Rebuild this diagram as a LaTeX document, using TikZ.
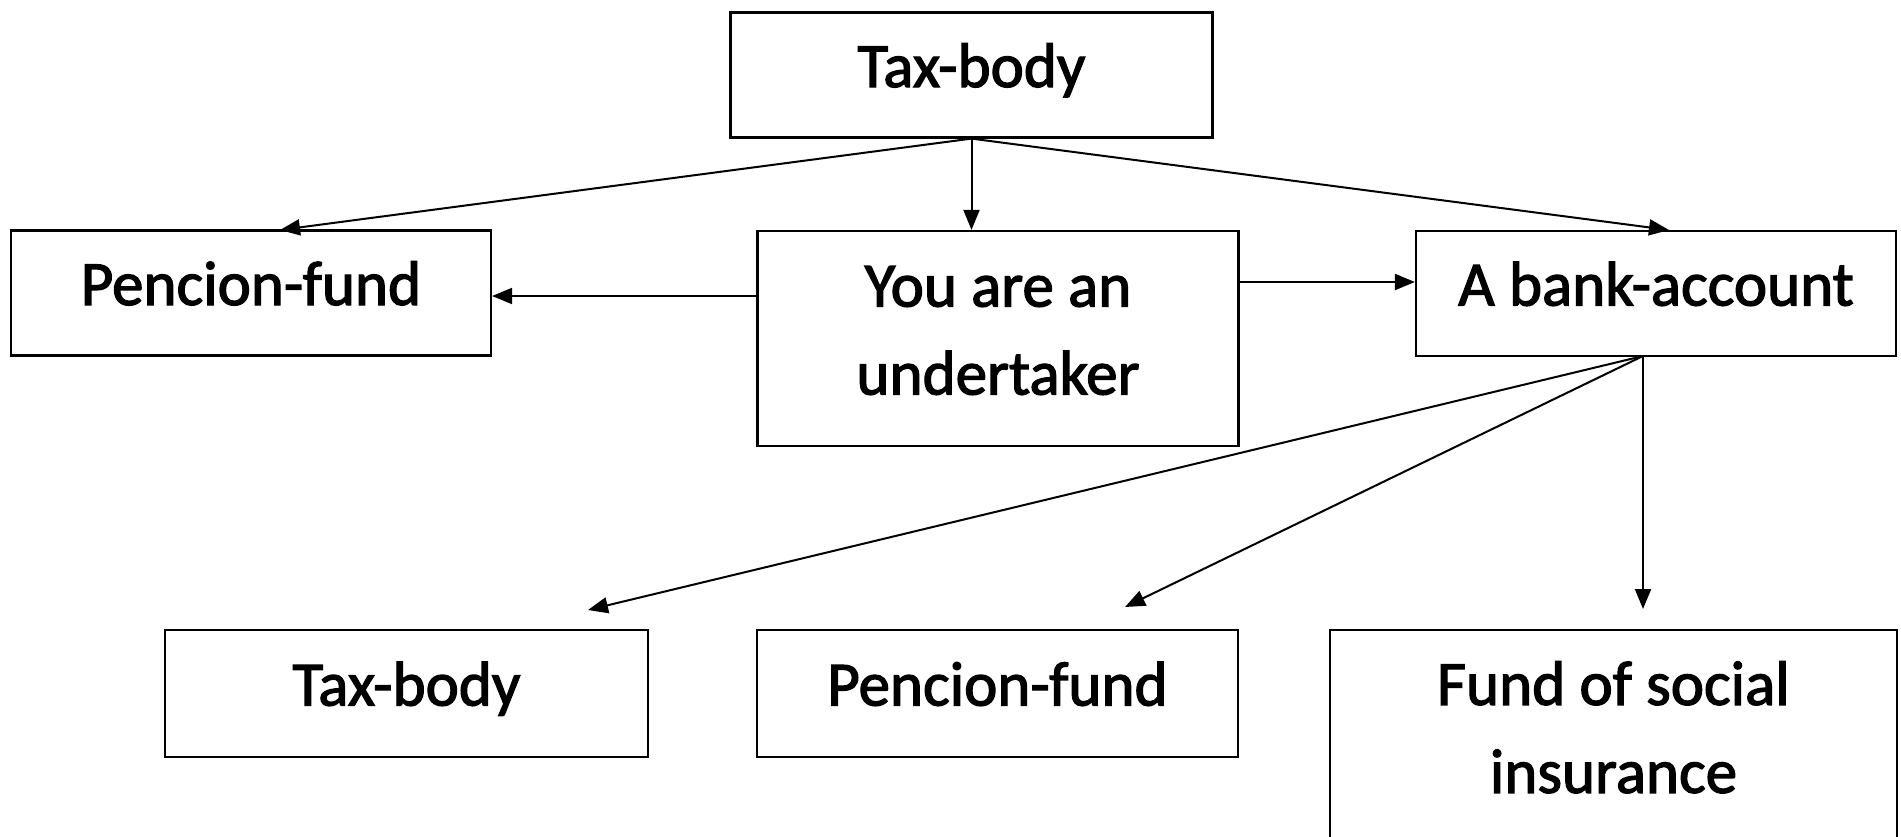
\documentclass[tikz,border=0pt]{standalone}
\usepackage{fontspec}
\setmainfont{Carlito}
\newfontfamily\semib{Carlito}[FakeBold=2]
\usetikzlibrary{arrows.meta}
\begin{document}
\begin{tikzpicture}[x=1pt,y=-1pt,
  box/.style={draw, line width=2.2pt, inner sep=0pt, font=\semib\fontsize{63}{88}\selectfont, align=center},
  one/.style={box, text height=43pt, text depth=19pt},
  arr/.style={line width=2pt, -{Triangle[length=20pt,width=16pt]}}]
\useasboundingbox (0,0) rectangle (1901,836);
\node[one, minimum width=482pt, minimum height=125pt] (top) at (971.5,75) {Tax-body};
\node[one, minimum width=480pt, minimum height=125pt] (pfL) at (251,293) {Pencion-fund};
\node[box, minimum width=481pt, minimum height=215pt] (you) at (998,338.5) {\rule{0pt}{43pt}You are an\\undertaker\rule[-19pt]{0pt}{19pt}};
\node[one, minimum width=480pt, minimum height=125pt] (bank) at (1656,293.5) {A bank-account};
\node[one, minimum width=483pt, minimum height=127pt] (taxB) at (406.5,693.5) {Tax-body};
\node[one, minimum width=481pt, minimum height=127pt] (pfB) at (997.5,693.5) {Pencion-fund};
\node[box, minimum width=567pt, minimum height=213pt] (fund) at (1613.5,736.5) {\rule{0pt}{43pt}Fund of social\\insurance\rule[-19pt]{0pt}{19pt}};
\coordinate (pfLin) at (280,230);
\coordinate (bankin) at (1669,230);
\coordinate (bo) at (1643,356);
\coordinate (taxBin) at (588,610);
\coordinate (pfBin) at (1125,607);
\coordinate (fundin) at (1643,609);
\draw[arr] (top.south) -- (pfLin);
\draw[arr] (top.south) -- (top.south |- you.north);
\draw[arr] (top.south) -- (bankin);
\draw[arr] (you.west |- 0,296) -- (pfL.east |- 0,296);
\draw[arr] (you.east |- 0,282) -- (bank.west |- 0,282);
\draw[arr] (bo) -- (taxBin);
\draw[arr] (bo) -- (pfBin);
\draw[arr] (bo) -- (fundin);
\end{tikzpicture}
\end{document}
